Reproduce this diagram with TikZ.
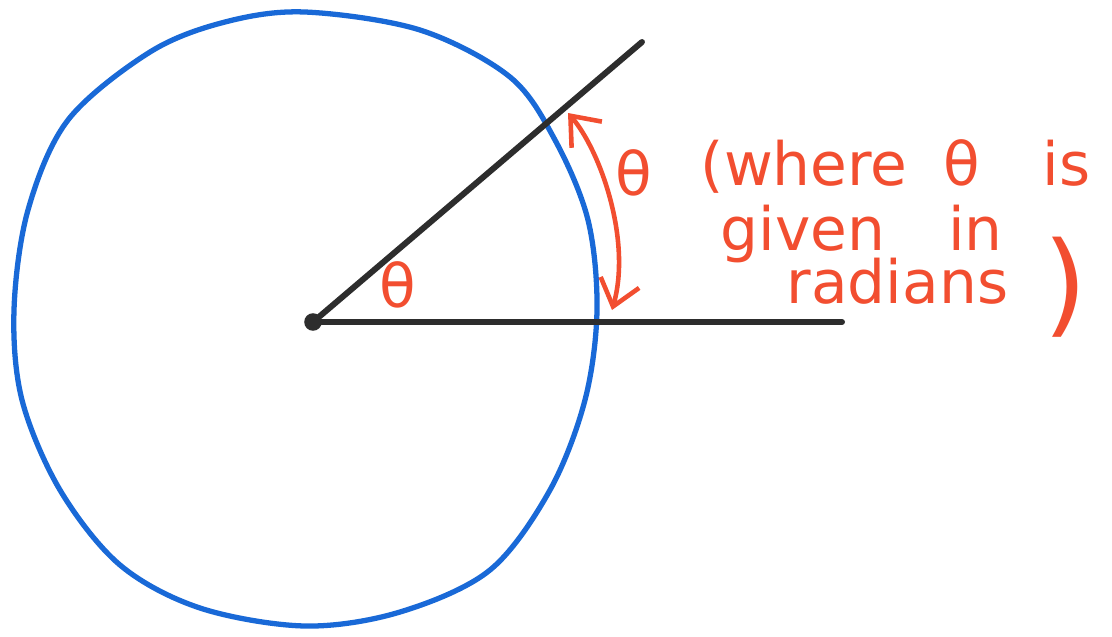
\documentclass[tikz,border=0pt]{standalone}
\usepackage{fontspec}
\setmainfont{DejaVu Sans}
\usetikzlibrary{arrows.meta}
\definecolor{inkblue}{RGB}{25,105,215}
\definecolor{inkred}{RGB}{242,78,48}
\definecolor{inkblack}{RGB}{45,45,45}

\begin{document}
\begin{tikzpicture}[x=0.01cm,y=-0.01cm,
  stroke/.style={inkblack, line width=1.7pt, line cap=round},
  note/.style={inkred, font=\fontsize{17}{20}\selectfont, inner sep=0pt},
  turn/.style={inkred, line width=1.3pt, {Straight Barb[length=2.5mm,width=4mm]}-{Straight Barb[length=2.5mm,width=4mm]}}
]
\useasboundingbox (0,0) rectangle (1112,636);
\fill[white] (0,0) rectangle (1112,636);

% hand drawn circle
\draw[inkblue, line width=1.5pt, line join=round] plot[smooth cycle, tension=0.55] coordinates {
  (305,12) (420,30) (510,77) (555,140) (588,220) (597,310) (585,400) (550,490)
  (490,570) (400,612) (305,626) (200,608) (120,565) (60,490) (22,400) (14,310)
  (28,210) (68,120) (150,52) (225,22)};

\node[circle, fill=inkblack, inner sep=0pt, minimum size=5pt] (O) at (313,322) {};
\coordinate (rayend) at (642,42);
\coordinate (lineend) at (842,322);
\draw[stroke] (O.center) -- (rayend);
\draw[stroke] (O.center) -- (lineend);

\coordinate (tipA) at (568,113);
\coordinate (tipB) at (612,310);
\draw[turn] (tipA) .. controls (600,150) and (632,240) .. (tipB);

\node[note] (angle) at (398,285) {θ};
\node[note] (thetaR) at (634,173) {θ};
\node[note, anchor=base west] (where) at (700,185) {(where\hspace{0.6em}θ\hspace{1.05em}is};
\node[note, anchor=base west] (given) at (720,250) {given\hspace{1.05em}in};
\node[note, anchor=base west] (radians) at (786,303) {radians};
\node[inkred, font=\fontsize{32}{36}\selectfont, inner sep=0pt] (paren) at (1065,287) {)};
\end{tikzpicture}
\end{document}
